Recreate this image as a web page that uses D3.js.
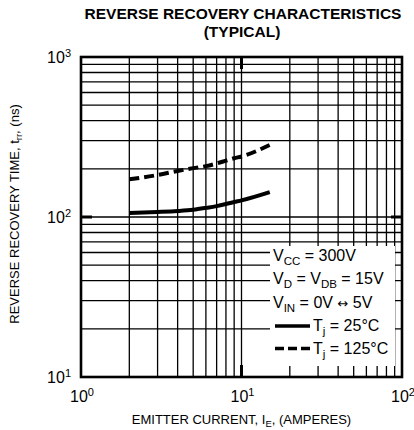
<!DOCTYPE html>
<html><head><meta charset="utf-8">
<script src="https://cdn.jsdelivr.net/npm/d3@7"></script>
<style>body{margin:0;background:#fff}svg{display:block;font-family:"Liberation Sans",Arial,sans-serif}</style>
</head><body><svg id="c" width="414" height="430"></svg>
<script>
// data
const currentA = [2, 3, 4, 5, 6, 7, 8, 9, 10, 15];
const trr25 = [106, 107.5, 109, 111, 114, 117, 120.5, 124, 127, 143];
const trr125 = [172, 183, 194, 202, 208, 216, 225, 233, 239, 282];
const xTickExp = [0, 1, 2];
const yTickExp = [1, 2, 3];
const legendTexts = [
  [["V",""],["CC","sub"],[" = 300V",""]],
  [["V",""],["D","sub"],[" = V",""],["DB","sub"],[" = 15V",""]],
  [["V",""],["IN","sub"],[" = 0V ",""],["\u2194","arrow"],[" 5V",""]]
];
const seriesNames = ["25\u00b0C", "125\u00b0C"];

const svg = d3.select("#c");
const L = 81, T = 57, R = 402, B = 377;
const x = d3.scaleLog().domain([1, 100]).range([L, R]);
const y = d3.scaleLog().domain([10, 1000]).range([B, T]);

// grid
const xs = [], ys = [];
[1, 10].forEach(d => { for (let k = 2; k <= 9; k++) xs.push(d * k); });
xs.push(10);
[10, 100].forEach(d => { for (let k = 2; k <= 9; k++) ys.push(d * k); });
ys.push(100);
const g = svg.append("g").attr("stroke", "#000").attr("stroke-width", 1.3);
g.selectAll("line.v").data(xs).join("line").attr("class", "v")
  .attr("x1", d => x(d)).attr("x2", d => x(d)).attr("y1", T).attr("y2", B);
g.selectAll("line.h").data(ys).join("line").attr("class", "h")
  .attr("y1", d => y(d)).attr("y2", d => y(d)).attr("x1", L).attr("x2", R);

// major ticks (thick, inward)
const mt = svg.append("g").attr("stroke", "#000").attr("stroke-width", 3);
mt.append("line").attr("x1", x(10)).attr("x2", x(10)).attr("y1", T).attr("y2", T + 12);
mt.append("line").attr("x1", x(10)).attr("x2", x(10)).attr("y1", B).attr("y2", B - 12);
mt.append("line").attr("y1", y(100)).attr("y2", y(100)).attr("x1", L).attr("x2", L + 11);
mt.append("line").attr("y1", y(100)).attr("y2", y(100)).attr("x1", R).attr("x2", R - 11);

// curves
const line = d3.line().x((d, i) => x(currentA[i])).y(d => y(d)).curve(d3.curveMonotoneX);
svg.append("path").attr("d", line(trr25)).attr("fill", "none").attr("stroke", "#000").attr("stroke-width", 4);
svg.append("path").attr("d", line(trr125)).attr("fill", "none").attr("stroke", "#000").attr("stroke-width", 4)
  .attr("stroke-dasharray", "10,5");

// legend box
svg.append("rect").attr("x", 270).attr("y", 246).attr("width", 125).attr("height", 120).attr("fill", "#fff");
const lg = svg.append("g").attr("font-size", 16);
legendTexts.forEach((parts, i) => {
  const t = lg.append("text").attr("x", 273).attr("y", 261 + i * 23.3);
  let inSub = false;
  parts.forEach(p => {
    if (p[1] === "sub") { t.append("tspan").attr("font-size", 11.5).attr("dy", 4).text(p[0]); inSub = true; }
    else if (p[1] === "arrow") { t.append("tspan").attr("font-family", "DejaVu Sans").attr("font-size", 13).attr("dy", inSub ? -4 : 0).text(p[0]); inSub = false; }
    else { t.append("tspan").attr("dy", inSub ? -4 : 0).text(p[0]); inSub = false; }
  });
});
seriesNames.forEach((s, i) => {
  const yy = 331 + i * 22.5;
  lg.append("line").attr("x1", 275).attr("x2", 310).attr("y1", yy - 5).attr("y2", yy - 5)
    .attr("stroke", "#000").attr("stroke-width", 3.5).attr("stroke-dasharray", i ? "9,4" : null);
  const t = lg.append("text").attr("x", 313).attr("y", yy);
  t.append("tspan").text("T");
  t.append("tspan").attr("font-size", 11.5).attr("dy", 4).text("j");
  t.append("tspan").attr("dy", -4).text(" = " + s);
});

// frame
svg.append("rect").attr("x", L).attr("y", T).attr("width", R - L).attr("height", B - T)
  .attr("fill", "none").attr("stroke", "#000").attr("stroke-width", 2.6);

// tick labels
const yl = svg.append("g").attr("font-size", 16);
yTickExp.forEach(e => {
  const t = yl.append("text").attr("x", 71).attr("y", y(Math.pow(10, e)) + 6).attr("text-anchor", "end");
  t.append("tspan").text("10");
  t.append("tspan").attr("font-size", 11).attr("dy", -6).text(e);
});
xTickExp.forEach(e => {
  const t = yl.append("text").attr("x", x(Math.pow(10, e)) + 1).attr("y", 402).attr("text-anchor", "middle");
  t.append("tspan").text("10");
  t.append("tspan").attr("font-size", 11).attr("dy", -6).text(e);
});

// titles
const tt = svg.append("g").attr("font-weight", "bold").attr("font-size", 15.5).attr("text-anchor", "middle");
tt.append("text").attr("x", 243).attr("y", 19).text("REVERSE RECOVERY CHARACTERISTICS");
tt.append("text").attr("x", 242).attr("y", 37).text("(TYPICAL)");

const xt = svg.append("text").attr("x", 241.5).attr("y", 424).attr("font-size", 13).attr("text-anchor", "middle");
xt.append("tspan").text("EMITTER CURRENT, I");
xt.append("tspan").attr("font-size", 9.5).attr("dy", 3).text("E");
xt.append("tspan").attr("dy", -3).text(", (AMPERES)");

const ytl = svg.append("text").attr("transform", "translate(19,214) rotate(-90)").attr("font-size", 13).attr("text-anchor", "middle");
ytl.append("tspan").text("REVERSE RECOVERY TIME, t");
ytl.append("tspan").attr("font-size", 9.5).attr("dy", 3).text("rr");
ytl.append("tspan").attr("dy", -3).text(", (ns)");
</script></body></html>
